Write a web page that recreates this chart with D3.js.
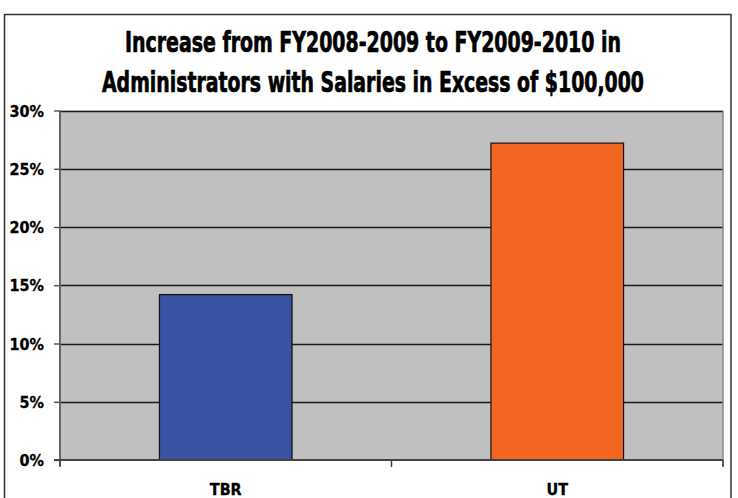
<!DOCTYPE html>
<html><head><meta charset="utf-8">
<script src="https://cdn.jsdelivr.net/npm/d3@7"></script>
<style>
body{margin:0;background:#fff;}
svg{display:block;}
text{font-family:"Liberation Sans Narrow","DejaVu Sans Condensed","Roboto Condensed",Roboto,"Liberation Sans",sans-serif;font-weight:bold;font-stretch:condensed;}
</style></head>
<body>
<script>
const categories = ["TBR", "UT"];
const values = [14.2, 27.2];
const colors = ["#3753A2", "#F36621"];
const yTicks = [0, 5, 10, 15, 20, 25, 30];
const titleLines = ["Increase from FY2008-2009 to FY2009-2010 in", "Administrators with Salaries in Excess of $100,000"];

const W = 738, H = 498;
const svg = d3.select("body").append("svg").attr("width", W).attr("height", H);

// outer frame
svg.append("rect").attr("x", 4.5).attr("y", 14.5).attr("width", 726.5).attr("height", 500)
  .attr("fill", "#fff").attr("stroke", "#333").attr("stroke-width", 1.5);

const plot = {left: 60, right: 723, top: 110.5, bottom: 460};
const x = d3.scaleBand().domain(categories).range([plot.left, plot.right]).padding(0);
const y = d3.scaleLinear().domain([0, 30]).range([plot.bottom, plot.top]);

// plot background
svg.append("rect").attr("x", plot.left).attr("y", y(30)).attr("width", plot.right - plot.left)
  .attr("height", y(0) - y(30)).attr("fill", "#C0C0C0");

// gridlines
svg.append("g").selectAll("line").data(yTicks.filter(d => d > 0)).join("line")
  .attr("x1", plot.left).attr("x2", plot.right)
  .attr("y1", d => Math.round(y(d)) + 0.5).attr("y2", d => Math.round(y(d)) + 0.5)
  .attr("stroke", "#1a1a1a").attr("stroke-width", 1.3);

// right edge of plot
svg.append("line").attr("x1", plot.right).attr("x2", plot.right).attr("y1", y(30)).attr("y2", y(0) + 6)
  .attr("stroke", "#8a8a8a").attr("stroke-width", 1.5);

// bars
const barW = x.bandwidth() * 0.4;
svg.append("g").selectAll("rect").data(categories).join("rect")
  .attr("x", d => x(d) + (x.bandwidth() - barW) / 2)
  .attr("y", (d, i) => y(values[i]))
  .attr("width", barW)
  .attr("height", (d, i) => y(0) - y(values[i]))
  .attr("fill", (d, i) => colors[i])
  .attr("stroke", "#111").attr("stroke-width", 1.2);

// y axis
const yAxis = d3.axisLeft(y).tickValues(yTicks).tickFormat(d => d + "%").tickSize(6).tickPadding(10);
const gy = svg.append("g").attr("transform", `translate(${plot.left},0)`).call(yAxis);
gy.select(".domain").attr("stroke", "#666").attr("stroke-width", 2).attr("d", `M0,${y(30)}V${y(0) + 6}`);
gy.selectAll(".tick line").attr("stroke", "#444").attr("stroke-width", 1.3);
gy.selectAll(".tick text").attr("font-size", 16).attr("fill", "#000").attr("dy", "0.35em")
  .attr("stroke", "#000").attr("stroke-width", 0.3)
  .attr("font-family", '"Liberation Sans Narrow","DejaVu Sans Condensed",Roboto,sans-serif').attr("font-weight", "bold");

// x axis
const gx = svg.append("g").attr("transform", `translate(0,${plot.bottom})`);
gx.append("line").attr("x1", plot.left - 6).attr("x2", plot.right).attr("y1", 0).attr("y2", 0)
  .attr("stroke", "#444").attr("stroke-width", 2);
const xTickPos = [plot.left].concat(categories.map(c => x(c) + x.bandwidth()));
gx.selectAll("line.tk").data(xTickPos).join("line").attr("class", "tk")
  .attr("x1", d => d).attr("x2", d => d).attr("y1", 0).attr("y2", 7)
  .attr("stroke", "#444").attr("stroke-width", 1.5);
gx.selectAll("text").data(categories).join("text")
  .attr("x", d => x(d) + x.bandwidth() / 2).attr("y", 35)
  .attr("text-anchor", "middle").attr("font-size", 16).attr("fill", "#000")
  .attr("stroke", "#000").attr("stroke-width", 0.3).text(d => d);

// title
const titleW = [496, 542];
svg.append("g").selectAll("text").data(titleLines).join("text")
  .attr("x", 373).attr("y", (d, i) => 52 + i * 40)
  .attr("text-anchor", "middle").attr("font-size", 28).attr("fill", "#000")
  .attr("stroke", "#000").attr("stroke-width", 0.7)
  .attr("textLength", (d, i) => titleW[i]).attr("lengthAdjust", "spacingAndGlyphs")
  .text(d => d);
</script>
</body></html>
